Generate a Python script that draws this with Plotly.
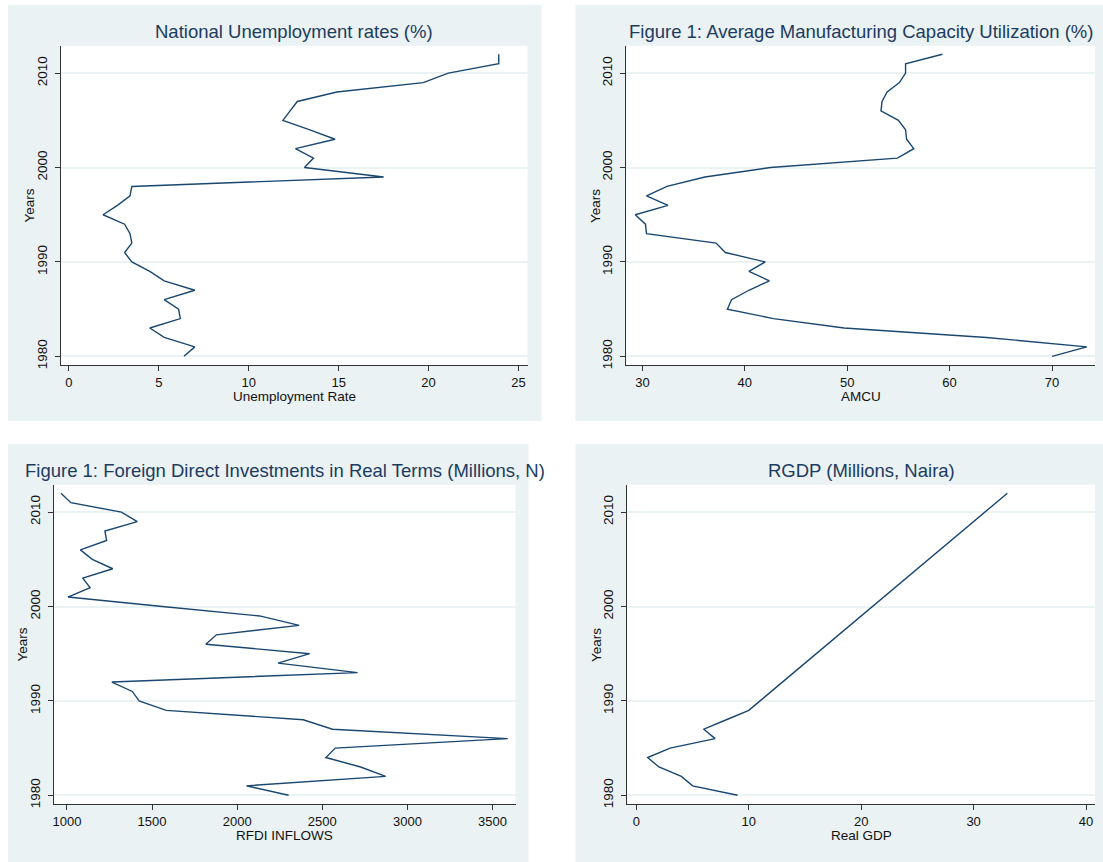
import plotly.graph_objects as go

years = list(range(1980, 2013))

unemployment = [6.4, 7.0, 5.3, 4.5, 6.2, 6.1, 5.3, 7.0, 5.3, 4.5,
                3.5, 3.1, 3.5, 3.4, 3.1, 1.9, 2.7, 3.4, 3.5, 17.5,
                13.1, 13.6, 12.6, 14.8, 13.4, 11.9, 12.3, 12.7, 14.9, 19.7,
                21.1, 23.9, 23.9]

amcu = [70.0, 73.4, 63.6, 49.7, 42.8, 38.3, 38.7, 40.4, 42.4, 40.4,
        42.0, 38.1, 37.2, 30.4, 30.3, 29.3, 32.5, 30.4, 32.4, 36.1,
        42.5, 54.9, 56.5, 55.8, 55.7, 55.0, 53.3, 53.4, 53.9, 55.1,
        55.7, 55.7, 59.3]

rfdi = [2302, 2054, 2872, 2725, 2521, 2576, 3589, 2560, 2388, 1583,
        1424, 1384, 1264, 2707, 2240, 2426, 1816, 1878, 2364, 2132,
        1560, 1006, 1136, 1093, 1269, 1149, 1079, 1233, 1223, 1413,
        1320, 1023, 965]

rgdp = [9.0, 5.0, 4.0, 2.0, 1.0, 3.0, 7.0, 6.0, 8.0, 10.0,
        11.0, 12.0, 13.0, 14.0, 15.0, 16.0, 17.0, 18.0, 19.0, 20.0,
        21.0, 22.0, 23.0, 24.0, 25.0, 26.0, 27.0, 28.0, 29.0, 30.0,
        31.0, 32.0, 33.0]

titles = ["National Unemployment rates (%)",
          "Figure 1: Average Manufacturing Capacity Utilization (%)",
          "Figure 1: Foreign Direct Investments in Real Terms (Millions, N)",
          "RGDP (Millions, Naira)"]
xtitles = ["Unemployment Rate", "AMCU", "RFDI INFLOWS", "Real GDP"]
xticks = [[0, 5, 10, 15, 20, 25], [30, 40, 50, 60, 70],
          [1000, 1500, 2000, 2500, 3000, 3500], [0, 10, 20, 30, 40]]
xranges = [[-0.44, 25.5], [28.44, 74.2], [923.7, 3635], [-0.8, 40.8]]
yticks = [1980, 1990, 2000, 2010]
yrange = [1979.05, 2012.9]

W, H = 1103, 862
LINE = "#1a476f"
BG = "#eaf2f3"
TITLE_C = "#1c3b60"
FONT = "Liberation Sans, Arial, sans-serif"

# panel geometry in pixels: background box, plot box
panels = [
    dict(bg=(7, 5, 541, 423), plot=(60, 46, 527, 367)),
    dict(bg=(575, 5, 1110, 423), plot=(626, 46, 1095, 367)),
    dict(bg=(7, 446, 528, 870), plot=(53, 487, 515, 808)),
    dict(bg=(575, 446, 1110, 870), plot=(627, 487, 1095, 808)),
]

series = [unemployment, amcu, rfdi, rgdp]

fig = go.Figure()
shapes = []
annotations = []
layout_axes = {}

for i, (p, s) in enumerate(zip(panels, series)):
    n = "" if i == 0 else str(i + 1)
    bx0, by0, bx1, by1 = p["bg"]
    px0, py0, px1, py1 = p["plot"]
    shapes.append(dict(type="rect", xref="paper", yref="paper",
                       x0=bx0 / W, x1=bx1 / W, y0=1 - by1 / H, y1=1 - by0 / H,
                       fillcolor=BG, line=dict(width=0), layer="below"))
    shapes.append(dict(type="rect", xref="paper", yref="paper",
                       x0=px0 / W, x1=px1 / W, y0=1 - py1 / H, y1=1 - py0 / H,
                       fillcolor="white", line=dict(width=0), layer="below"))
    fig.add_trace(go.Scatter(x=s, y=years, mode="lines",
                             line=dict(color=LINE, width=1.4),
                             xaxis="x" + n, yaxis="y" + n, showlegend=False))
    layout_axes["xaxis" + n] = dict(
        domain=[px0 / W, px1 / W], anchor="y" + n, range=xranges[i],
        tickvals=xticks[i], showgrid=False, zeroline=False,
        showline=True, linecolor="#333333", linewidth=1,
        ticks="outside", ticklen=5, tickcolor="#333333",
        tickfont=dict(family=FONT, size=13, color="#111111"))
    layout_axes["yaxis" + n] = dict(
        domain=[1 - py1 / H, 1 - py0 / H], anchor="x" + n, range=yrange,
        tickvals=yticks, tickangle=-90, showgrid=True, gridcolor=BG,
        gridwidth=1.5, zeroline=False, ticklabelstandoff=3,
        showline=True, linecolor="#333333", linewidth=1,
        ticks="outside", ticklen=5, tickcolor="#333333",
        tickfont=dict(family=FONT, size=13.5, color="#111111"))
    cx = (px0 + px1) / 2 / W
    annotations.append(dict(text=titles[i], x=cx, y=1 - (py0 - 14) / H,
                            xref="paper", yref="paper", showarrow=False,
                            xanchor="center", yanchor="middle",
                            font=dict(family=FONT, size=18.5, color=TITLE_C)))
    annotations.append(dict(text=xtitles[i], x=cx, y=1 - (py1 + 31) / H,
                            xref="paper", yref="paper", showarrow=False,
                            xanchor="center", yanchor="middle",
                            font=dict(family=FONT, size=13.5, color="#111111")))
    annotations.append(dict(text="Years", x=(px0 - 31) / W,
                            y=1 - (py0 + py1) / 2 / H,
                            xref="paper", yref="paper", showarrow=False,
                            xanchor="center", yanchor="middle", textangle=-90,
                            font=dict(family=FONT, size=13.5, color="#111111")))

fig.update_layout(width=W, height=H, margin=dict(l=0, r=0, t=0, b=0),
                  paper_bgcolor="white", plot_bgcolor="rgba(0,0,0,0)",
                  shapes=shapes, annotations=annotations, **layout_axes)

fig.write_html("out.html", config={"displayModeBar": False},
               post_script="document.body.style.margin='0';document.body.style.overflow='hidden';")
